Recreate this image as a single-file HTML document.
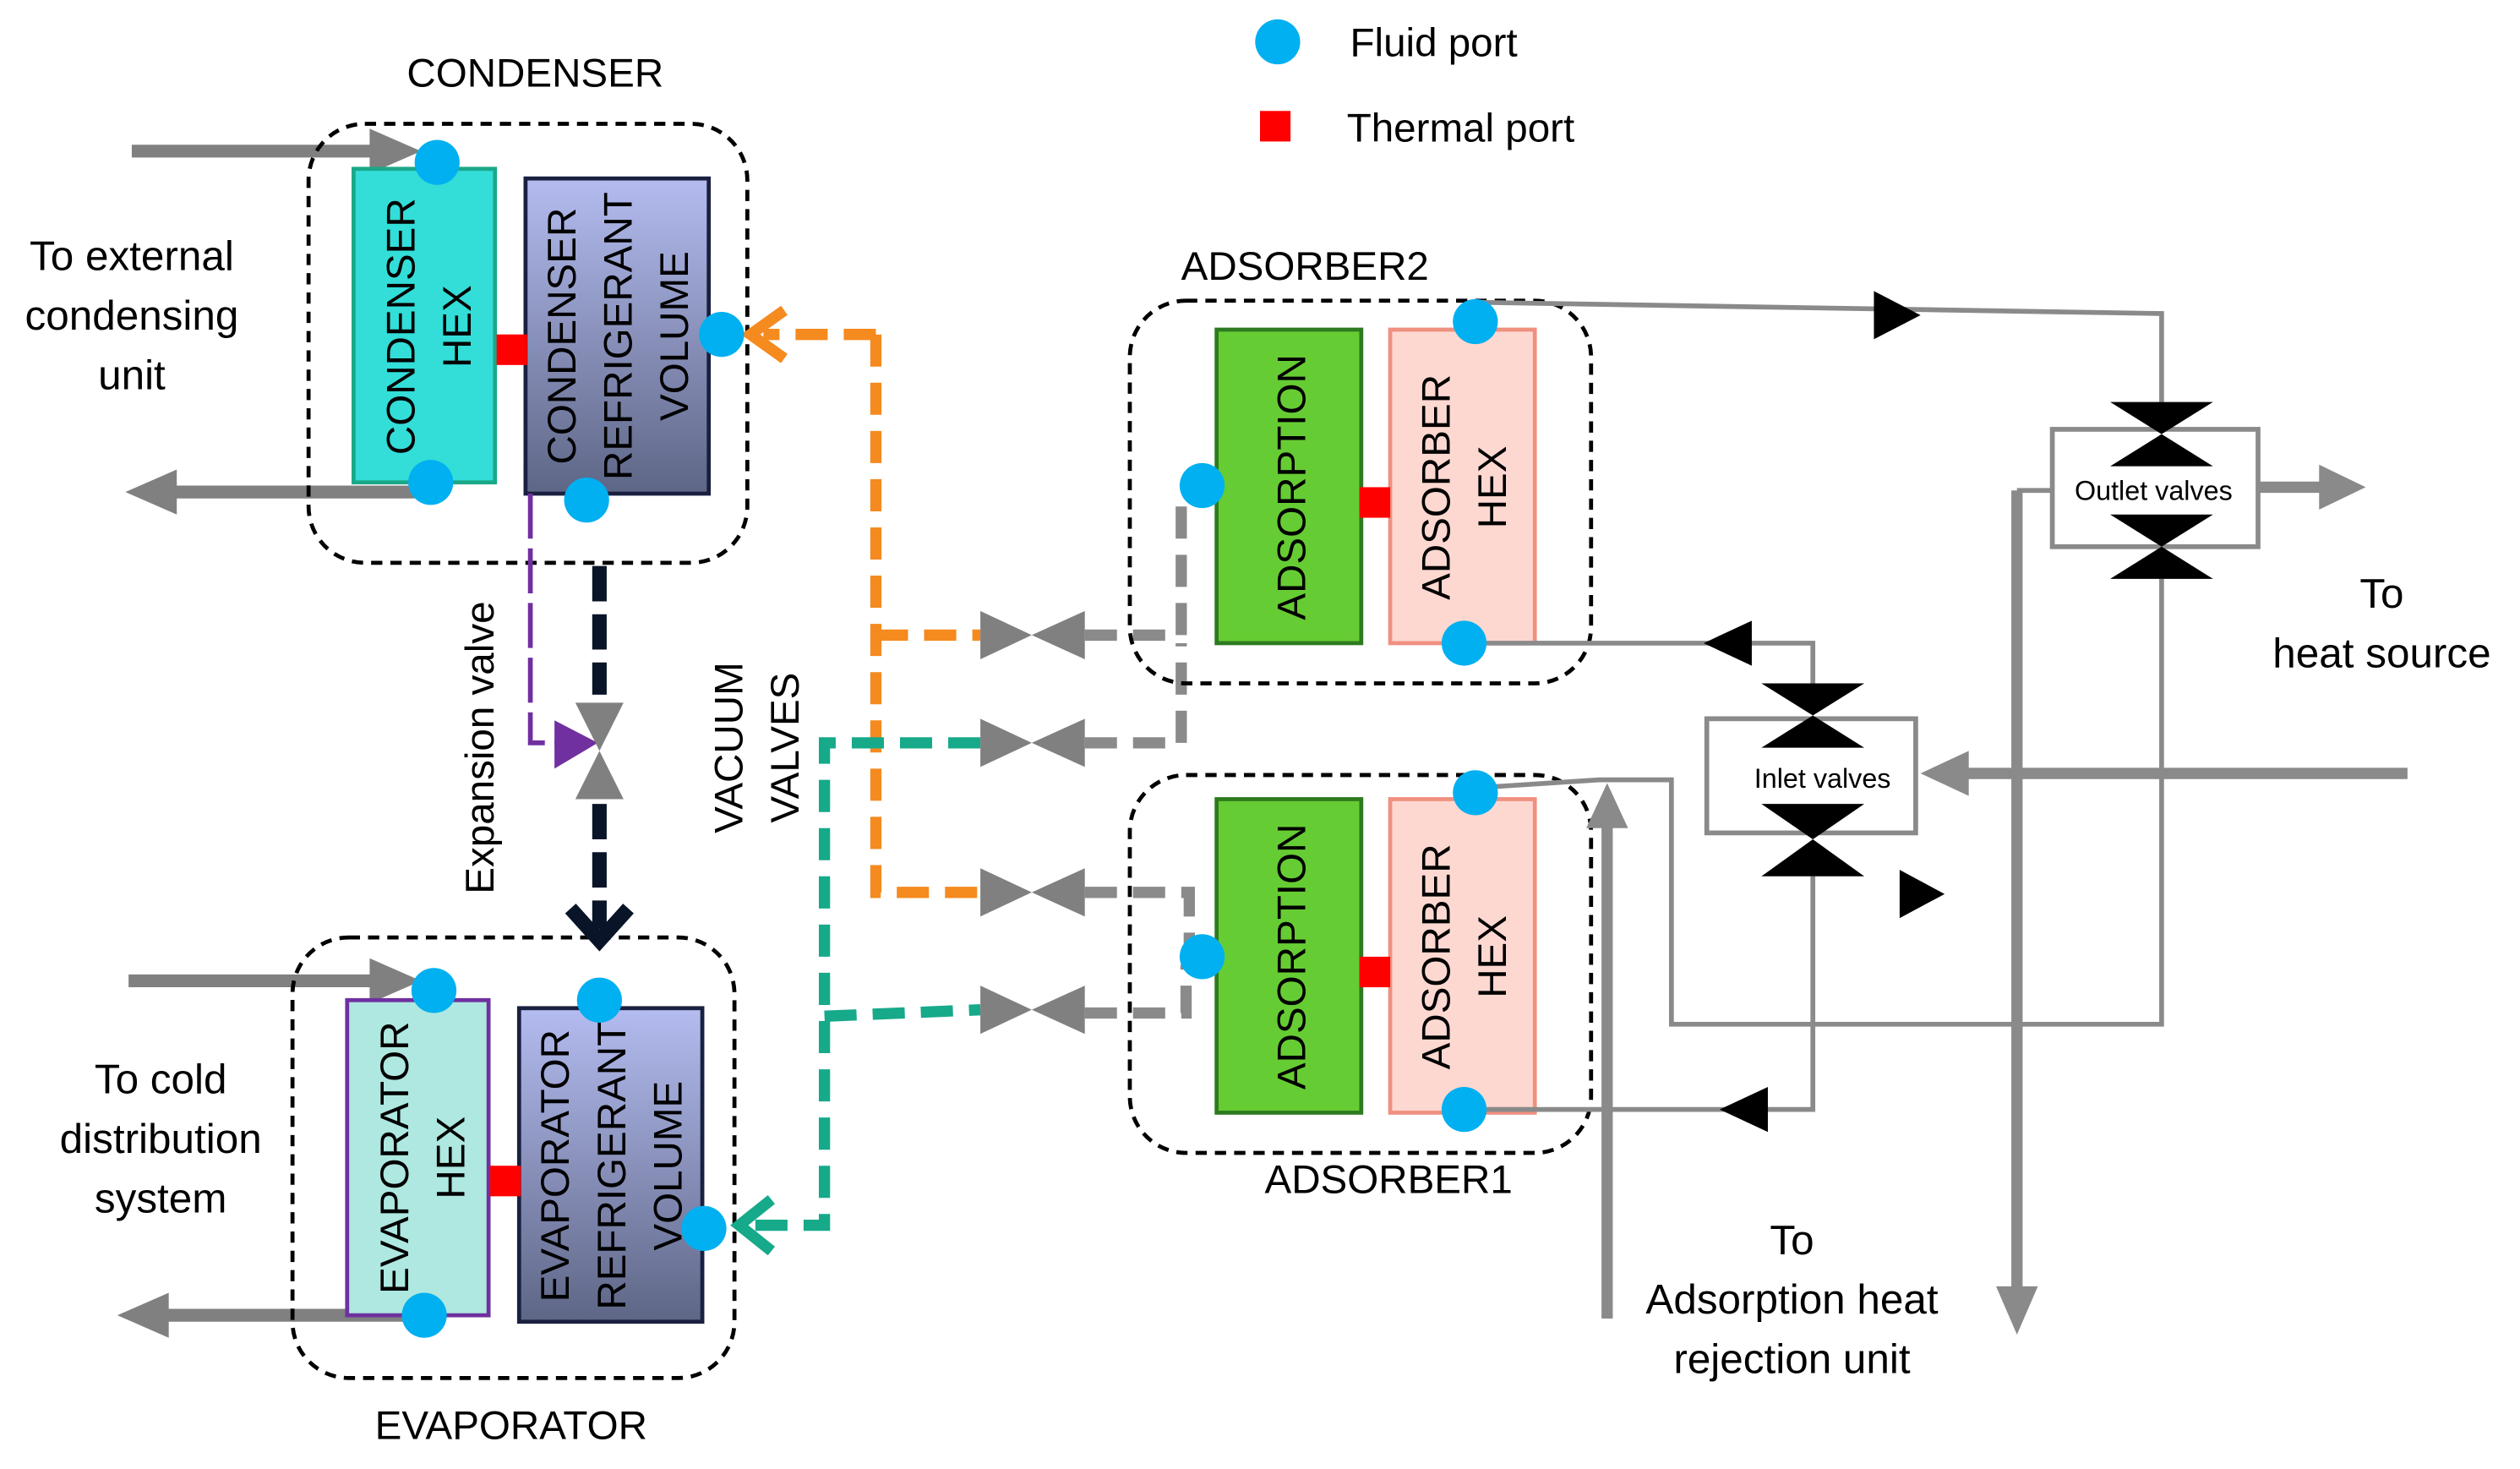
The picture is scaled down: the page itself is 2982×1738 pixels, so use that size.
<!DOCTYPE html>
<html><head><meta charset="utf-8"><style>html,body{margin:0;padding:0;background:#fff}svg{display:block}text{font-family:"Liberation Sans",sans-serif;fill:#000}</style></head><body>
<svg width="2982" height="1738" viewBox="0 0 1568 913.6" preserveAspectRatio="none" xmlns="http://www.w3.org/2000/svg">
<defs>
<linearGradient id="g" x1="0" y1="0" x2="0" y2="1"><stop offset="0" stop-color="#b4bcf0"/><stop offset="1" stop-color="#5e6686"/></linearGradient>
</defs>
<circle cx="795" cy="26" r="14" fill="#00b0f0"/><text x="840" y="35" font-size="25">Fluid port</text>
<rect x="784" y="69" width="19" height="19" fill="#f00"/><text x="838" y="88" font-size="25">Thermal port</text>

<g stroke="#808080" stroke-width="8" fill="#808080">
<line x1="82" y1="94" x2="235" y2="94"/><polygon points="230,80 262,94 230,108" stroke="none"/>
<line x1="258" y1="306" x2="105" y2="306"/><polygon points="110,292 78,306 110,320" stroke="none"/>
<line x1="80" y1="610" x2="235" y2="610"/><polygon points="230,596 262,610 230,624" stroke="none"/>
<line x1="258" y1="818" x2="100" y2="818"/><polygon points="105,804 73,818 105,832" stroke="none"/>
</g>

<text x="333" y="54" font-size="25" text-anchor="middle">CONDENSER</text>
<rect x="192" y="77" width="273" height="273" rx="35" fill="none" stroke="#000" stroke-width="2.5" stroke-dasharray="7,5"/>
<rect x="220" y="105" width="88" height="195" fill="#33ddd8" stroke="#1aa888" stroke-width="2.5"/>
<rect x="327" y="111" width="114" height="196" fill="url(#g)" stroke="#1a2040" stroke-width="2.5"/>
<text transform="translate(258,203) rotate(-90)" font-size="25" text-anchor="middle">CONDENSER</text>
<text transform="translate(293,203) rotate(-90)" font-size="25" text-anchor="middle">HEX</text>
<text transform="translate(358,209) rotate(-90)" font-size="25" text-anchor="middle">CONDENSER</text>
<text transform="translate(393,209) rotate(-90)" font-size="25" text-anchor="middle">REFRIGERANT</text>
<text transform="translate(428,209) rotate(-90)" font-size="25" text-anchor="middle">VOLUME</text>
<rect x="309" y="208" width="19" height="19" fill="#f00"/>
<text x="82" y="168" font-size="26" text-anchor="middle">To external</text>
<text x="82" y="205" font-size="26" text-anchor="middle">condensing</text>
<text x="82" y="242" font-size="26" text-anchor="middle">unit</text>

<rect x="182" y="583" width="275" height="274" rx="35" fill="none" stroke="#000" stroke-width="2.5" stroke-dasharray="7,5"/>
<rect x="216" y="622" width="88" height="196" fill="#aee8e0" stroke="#7030a0" stroke-width="2.5"/>
<rect x="323" y="627" width="114" height="195" fill="url(#g)" stroke="#1a2040" stroke-width="2.5"/>
<text transform="translate(254,720) rotate(-90)" font-size="25" text-anchor="middle">EVAPORATOR</text>
<text transform="translate(289,720) rotate(-90)" font-size="25" text-anchor="middle">HEX</text>
<text transform="translate(354,725) rotate(-90)" font-size="25" text-anchor="middle">EVAPORATOR</text>
<text transform="translate(389,725) rotate(-90)" font-size="25" text-anchor="middle">REFRIGERANT</text>
<text transform="translate(424,725) rotate(-90)" font-size="25" text-anchor="middle">VOLUME</text>
<rect x="305" y="725" width="19" height="19" fill="#f00"/>
<text x="318" y="895" font-size="25" text-anchor="middle">EVAPORATOR</text>
<text x="100" y="680" font-size="26" text-anchor="middle">To cold</text>
<text x="100" y="717" font-size="26" text-anchor="middle">distribution</text>
<text x="100" y="754" font-size="26" text-anchor="middle">system</text>

<path d="M330,307 V462 H348" fill="none" stroke="#7030a0" stroke-width="3" stroke-dasharray="28,6"/>
<polygon points="345,448 372,462 345,478" fill="#7030a0"/>
<line x1="373" y1="352" x2="373" y2="432" stroke="#0a1428" stroke-width="9" stroke-dasharray="22,8"/>
<line x1="373" y1="500" x2="373" y2="578" stroke="#0a1428" stroke-width="9" stroke-dasharray="22,8"/>
<polyline points="355,565 373,585 391,565" fill="none" stroke="#0a1428" stroke-width="9"/>
<polygon points="358,437 388,437 373,467 358,497 388,497 373,467" fill="#808080"/>
<text transform="translate(307,465) rotate(-90)" font-size="25" text-anchor="middle">Expansion valve</text>
<text transform="translate(462,465) rotate(-90)" font-size="25" text-anchor="middle">VACUUM</text>
<text transform="translate(497,465) rotate(-90)" font-size="25" text-anchor="middle">VALVES</text>

<g fill="none" stroke="#f58a1f" stroke-width="7">
<path d="M545,208 H475" stroke-dasharray="20,10"/>
<path d="M545,208 V555 H610" stroke-dasharray="20,10"/>
<path d="M545,395 H610" stroke-dasharray="20,10"/>
<polyline points="488,193 467,208 488,223"/>
</g>
<g fill="none" stroke="#16a98a" stroke-width="7">
<path d="M610,462 H513 V762 H462" stroke-dasharray="20,10"/>
<path d="M513,632 L610,628" stroke-dasharray="20,10"/>
<polyline points="480,746 460,762 480,778"/>
</g>
<g fill="none" stroke="#8a8a8a" stroke-width="7" stroke-dasharray="20,10">
<path d="M675,395 H735 V310"/>
<path d="M675,462 H735 V400"/>
<path d="M675,555 H740 V590"/>
<path d="M675,630 H738 V600"/>
</g>
<g fill="#808080">
<polygon points="610,380 642,395 610,410"/><polygon points="675,380 642,395 675,410"/>
<polygon points="610,447 642,462 610,477"/><polygon points="675,447 642,462 675,477"/>
<polygon points="610,540 642,555 610,570"/><polygon points="675,540 642,555 675,570"/>
<polygon points="610,613 642,628 610,643"/><polygon points="675,613 642,628 675,643"/>
</g>

<text x="812" y="174" font-size="25" text-anchor="middle">ADSORBER2</text>
<rect x="703" y="187" width="287" height="238" rx="35" fill="none" stroke="#000" stroke-width="2.5" stroke-dasharray="7,5"/>
<rect x="757" y="205" width="90" height="195" fill="#66cc33" stroke="#2e7a20" stroke-width="2.5"/>
<rect x="865" y="205" width="90" height="195" fill="#fdd8d0" stroke="#f09080" stroke-width="2.5"/>
<text transform="translate(812,303) rotate(-90)" font-size="25" text-anchor="middle">ADSORPTION</text>
<text transform="translate(902,303) rotate(-90)" font-size="25" text-anchor="middle">ADSORBER</text>
<text transform="translate(937,303) rotate(-90)" font-size="25" text-anchor="middle">HEX</text>
<rect x="846" y="303" width="19" height="19" fill="#f00"/>
<rect x="703" y="482" width="287" height="235" rx="35" fill="none" stroke="#000" stroke-width="2.5" stroke-dasharray="7,5"/>
<rect x="757" y="497" width="90" height="195" fill="#66cc33" stroke="#2e7a20" stroke-width="2.5"/>
<rect x="865" y="497" width="90" height="195" fill="#fdd8d0" stroke="#f09080" stroke-width="2.5"/>
<text transform="translate(812,595) rotate(-90)" font-size="25" text-anchor="middle">ADSORPTION</text>
<text transform="translate(902,595) rotate(-90)" font-size="25" text-anchor="middle">ADSORBER</text>
<text transform="translate(937,595) rotate(-90)" font-size="25" text-anchor="middle">HEX</text>
<rect x="846" y="595" width="19" height="19" fill="#f00"/>
<text x="864" y="742" font-size="25" text-anchor="middle">ADSORBER1</text>

<g fill="none" stroke="#8a8a8a" stroke-width="3">
<path d="M918,188 L1345,195 V250"/>
<rect x="1277" y="267" width="128" height="73"/>
<path d="M1345,360 V637 H1040 V485 H995 L918,490"/>
<path d="M911,400 H1128 V425"/>
<path d="M911,690 H1128 V545"/>
<rect x="1062" y="447" width="130" height="71"/>
<path d="M1255,305 H1277"/>
</g>
<g stroke="#8a8a8a" stroke-width="7" fill="#8a8a8a">
<line x1="1255" y1="305" x2="1255" y2="805"/><polygon points="1242,800 1255,830 1268,800" stroke="none"/>
<line x1="1000" y1="820" x2="1000" y2="510"/><polygon points="987,515 1000,487 1013,515" stroke="none"/>
<line x1="1498" y1="481" x2="1220" y2="481"/><polygon points="1225,467 1195,481 1225,495" stroke="none"/>
<line x1="1405" y1="303" x2="1448" y2="303"/><polygon points="1443,289 1472,303 1443,317" stroke="none"/>
</g>
<g fill="#000">
<polygon points="1313,250 1377,250 1345,270 1377,290 1313,290 1345,270"/>
<polygon points="1313,320 1377,320 1345,340 1377,360 1313,360 1345,340"/>
<polygon points="1096,425 1160,425 1128,445 1160,465 1096,465 1128,445"/>
<polygon points="1096,500 1160,500 1128,522 1160,545 1096,545 1128,522"/>
<polygon points="1166,181 1195,196 1166,211"/>
<polygon points="1090,386 1060,400 1090,414"/>
<polygon points="1100,676 1070,690 1100,704"/>
<polygon points="1182,541 1210,556 1182,571"/>
</g>
<text x="1340" y="311" font-size="17" text-anchor="middle">Outlet valves</text>
<text x="1134" y="490" font-size="17" text-anchor="middle">Inlet valves</text>
<text x="1482" y="378" font-size="26" text-anchor="middle">To</text>
<text x="1482" y="415" font-size="26" text-anchor="middle">heat source</text>
<text x="1115" y="780" font-size="26" text-anchor="middle">To</text>
<text x="1115" y="817" font-size="26" text-anchor="middle">Adsorption heat</text>
<text x="1115" y="854" font-size="26" text-anchor="middle">rejection unit</text>

<g fill="#00b0f0">
<circle cx="272" cy="101" r="14"/><circle cx="268" cy="300" r="14"/><circle cx="449" cy="208" r="14"/><circle cx="365" cy="311" r="14"/>
<circle cx="270" cy="616" r="14"/><circle cx="264" cy="818" r="14"/><circle cx="373" cy="622" r="14"/><circle cx="438" cy="764" r="14"/>
<circle cx="748" cy="302" r="14"/><circle cx="918" cy="200" r="14"/><circle cx="911" cy="400" r="14"/>
<circle cx="748" cy="595" r="14"/><circle cx="918" cy="493" r="14"/><circle cx="911" cy="690" r="14"/>
</g>
</svg>
</body></html>
